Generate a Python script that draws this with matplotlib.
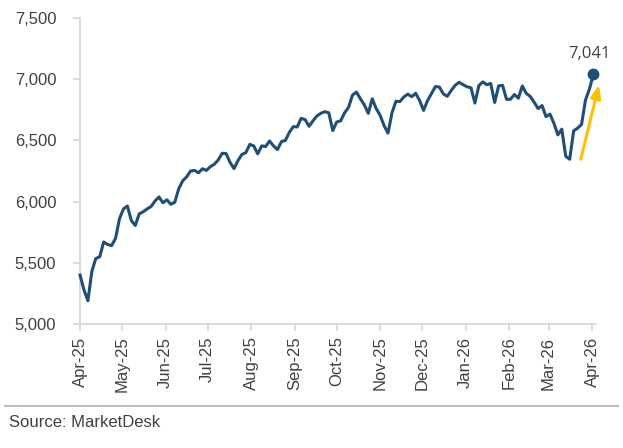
import pandas as pd
import matplotlib
matplotlib.use('Agg')
import matplotlib.pyplot as plt
import matplotlib.dates as mdates
from matplotlib.ticker import FuncFormatter, MultipleLocator

plt.rcParams['font.family'] = ['Liberation Sans', 'DejaVu Sans']

# S&P 500 level on an even grid (Apr-25 .. Apr-26)
close = [
    5400, 5280, 5190, 5430, 5535, 5550, 5670, 5650, 5640, 5700,
    5860, 5940, 5964, 5845, 5805, 5900, 5917, 5940, 5960, 6005,
    6038, 5990, 6015, 5978, 5995, 6105, 6170, 6202, 6250, 6255,
    6235, 6268, 6255, 6285, 6305, 6340, 6395, 6392, 6320, 6270,
    6335, 6385, 6400, 6468, 6455, 6390, 6455, 6450, 6495, 6455,
    6425, 6490, 6500, 6565, 6612, 6610, 6680, 6670, 6615, 6660,
    6700, 6722, 6735, 6725, 6580, 6650, 6660, 6725, 6770, 6870,
    6895, 6840, 6790, 6721, 6840, 6760, 6705, 6620, 6560, 6725,
    6820, 6817, 6855, 6878, 6857, 6885, 6825, 6745, 6825, 6882,
    6940, 6936, 6880, 6860, 6908, 6950, 6975, 6955, 6938, 6930,
    6805, 6948, 6978, 6955, 6965, 6810, 6945, 6950, 6836, 6836,
    6875, 6845, 6945, 6884, 6860, 6812, 6760, 6785, 6694, 6715,
    6640, 6545, 6592, 6370, 6346, 6578, 6600, 6630, 6830, 6920,
    7041,
]
start_date = '2025-04-01'
end_date = '2026-04-02'
dates = pd.date_range(start_date, end_date, periods=len(close))

last_label = '7,041'
arrow_from = ('2026-03-24', 6346)
arrow_to = ('2026-04-06', 6953)

navy = '#1F4E79'
gold = '#FFC000'
grey_txt = '#404040'
spine_grey = '#D9D9D9'

fig = plt.figure(figsize=(6.23, 4.48), dpi=100)
ax = fig.add_axes([80 / 623, 1 - 324 / 448, (596.2 - 80) / 623, (324 - 18) / 448])

ax.plot(dates, close, color=navy, lw=2.2, solid_joinstyle='round', clip_on=False, zorder=3)
ax.plot(dates[-1], close[-1], 'o', color=navy, ms=7.5, clip_on=False, zorder=4)
ax.annotate(last_label, (dates[-1], close[-1]), xytext=(-3, 9), textcoords='offset points',
            ha='center', va='bottom', fontsize=12, color=grey_txt,
            family=['Open Sans', 'DejaVu Sans'])

ax.annotate('', xy=(pd.Timestamp(arrow_to[0]), arrow_to[1]),
            xytext=(pd.Timestamp(arrow_from[0]), arrow_from[1]),
            arrowprops=dict(arrowstyle='-|>,head_length=0.75,head_width=0.3',
                            color=gold, lw=2.2, shrinkA=0, shrinkB=0),
            annotation_clip=False)

ax.set_xlim(pd.Timestamp('2025-04-01'), pd.Timestamp('2026-04-04'))
ax.set_ylim(5000, 7500)
ax.yaxis.set_major_locator(MultipleLocator(500))
ax.yaxis.set_major_formatter(FuncFormatter(lambda v, p: f'{v:,.0f}'))
ax.xaxis.set_major_locator(mdates.MonthLocator())
ax.xaxis.set_major_formatter(mdates.DateFormatter('%b-%y'))

for s in ['top', 'right']:
    ax.spines[s].set_visible(False)
for s in ['left', 'bottom']:
    ax.spines[s].set_color(spine_grey)
    ax.spines[s].set_linewidth(1.3)

ax.tick_params(axis='y', length=5, width=1.3, color=spine_grey, pad=12,
               labelsize=12, labelcolor=grey_txt)
ax.tick_params(axis='x', length=5, width=1.3, color=spine_grey, pad=4,
               labelsize=12, labelcolor=grey_txt, labelrotation=90)

# footer rule and source
fig.add_artist(plt.Line2D([5 / 623, 618 / 623], [1 - 406 / 448] * 2,
                          color='#BFBFBF', lw=1.5))
fig.text(9 / 623, 1 - 422 / 448, 'Source: MarketDesk', fontsize=12,
         color=grey_txt, va='center', ha='left')

fig.savefig('out.png', dpi=100)
